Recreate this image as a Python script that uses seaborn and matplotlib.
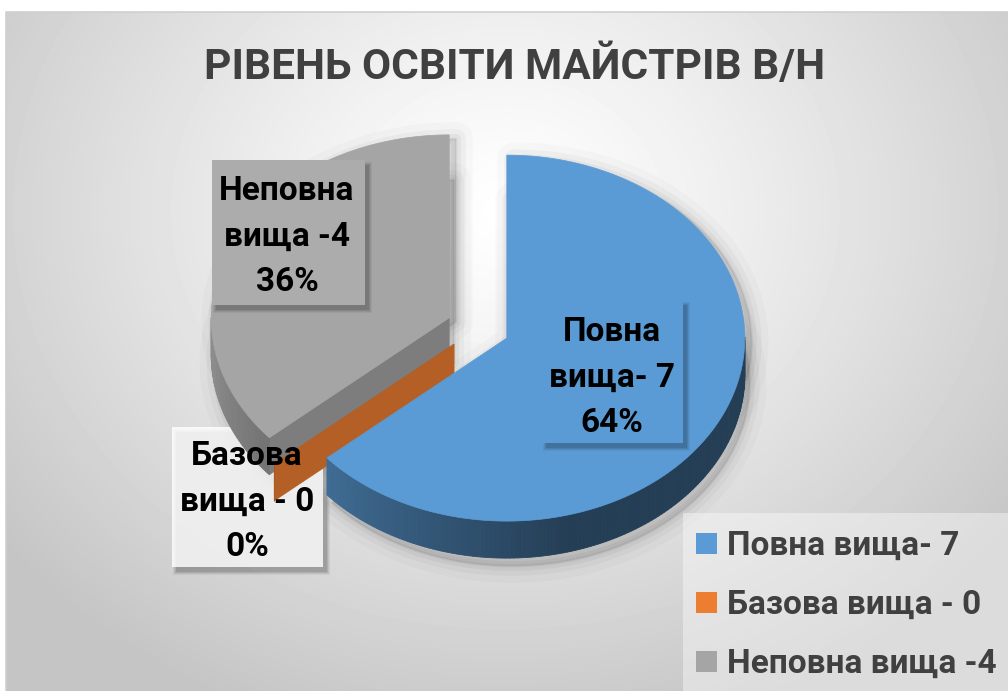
import numpy as np
import matplotlib
matplotlib.use("Agg")
import matplotlib.pyplot as plt
from matplotlib.patches import Polygon, Rectangle
import seaborn as sns

# data
title = "РІВЕНЬ ОСВІТИ МАЙСТРІВ В/Н"
categories = ["Повна вища- 7", "Базова вища - 0", "Неповна вища -4"]
counts = [7, 0, 4]
label_lines = [["Повна", "вища- 7"], ["Базова", "вища - 0"], ["Неповна", "вища -4"]]

sns.set_theme(style="white")
plt.rcParams["font.family"] = ["Roboto", "DejaVu Sans"]
colors = sns.color_palette(["#5b9bd5", "#ed7d31", "#a5a5a5"])

W, H = 1008, 691
fig = plt.figure(figsize=(W / 100, H / 100), dpi=100)
ax = fig.add_axes([0, 0, 1, 1])

# chart area background (radial gradient)
x0, y0 = 6, 12
yy, xx = np.mgrid[y0:H, x0:W]
r = np.hypot(xx - 505, (yy - 210) / 0.85)
bg = 1 - np.clip(r / 640, 0, 1) ** 1.2 * 0.23
ax.imshow(bg, cmap="gray", vmin=0, vmax=1, extent=(x0, W, H, y0),
          aspect="auto", zorder=0)
ax.plot([x0, x0, W], [H, y0, y0], color="#cfcfcf", lw=1.2, zorder=1)

# pie geometry (pixels)
cx, cy = 478, 328
rx, ry = 238, 183
depth = 37
explode = 0.133

fracs = np.array(counts) / sum(counts)
ends = np.cumsum(fracs) * 360
starts = ends - fracs * 360


def rim(c, th):
    t = np.radians(th)
    return c[0] + rx * np.sin(t), c[1] - ry * np.cos(t)


def wall_shade(th):
    return 0.4 + 0.3 * np.clip((th - 165) / 65, 0, 1.5)


def shaded(col, f):
    return tuple(np.clip(np.array(col) * f, 0, 1))


centres = []
for s, e in zip(starts, ends):
    m = np.radians((s + e) / 2)
    centres.append((cx + explode * rx * np.sin(m), cy - explode * ry * np.cos(m)))

# soft shadow under the pie
for k in [2, 0]:
    c = centres[k]
    th = np.linspace(starts[k], ends[k], 120)
    pts = np.array([c] + [rim(c, t) for t in th])
    for off in [(7, 4), (5, depth + 8)]:
        sp = pts + off
        for lw, a in [(24, 0.02), (14, 0.03), (7, 0.04), (2, 0.05)]:
            ax.add_patch(Polygon(sp, closed=True, facecolor=(0, 0, 0, 0.025),
                                 edgecolor=(0, 0, 0, a), lw=lw,
                                 joinstyle="round", zorder=2))

# data label boxes (behind / in front as in the original)
boxes = [(542, 300, 141, 143, colors[0], 1.0, 7),
         (172, 427, 151, 140, (1, 1, 1), 0.82, 2.5),
         (212, 160, 153, 145, (0.675, 0.675, 0.675), 1.0, 7)]


def draw_box(x, y, w, h, fc, alpha, z):
    for i, a in enumerate([0.05, 0.06, 0.08, 0.1]):
        g = 3 - i
        ax.add_patch(Rectangle((x + 4 - g, y + 5 - g), w + 2 * g, h + 2 * g,
                               facecolor=(0, 0, 0, a), edgecolor="none", zorder=z))
    ax.add_patch(Rectangle((x, y), w, h, facecolor=fc, alpha=alpha,
                           edgecolor="none", zorder=z + 0.1))


draw_box(*boxes[1])

# slices, back to front
for k in [2, 1, 0]:
    c = centres[k]
    s, e = starts[k], ends[k]
    col = colors[k]
    z = 3 + [2, 1, 0].index(k)
    # radial cut faces
    for edge, normal in [(s, s - 90), (e, e + 90)]:
        if -np.cos(np.radians(normal)) > 0.05:
            p = rim(c, edge)
            face = [c, p, (p[0], p[1] + depth), (c[0], c[1] + depth)]
            fcol = shaded(col, 0.76)
            ax.add_patch(Polygon(face, closed=True, facecolor=fcol,
                                 edgecolor=fcol, lw=0.5, zorder=z))
    # outer wall
    th = np.linspace(s, e, max(2, int(e - s) + 2))
    for t1, t2 in zip(th[:-1], th[1:]):
        tm = (t1 + t2) / 2
        if 90 < tm < 270:
            p1, p2 = rim(c, t1), rim(c, t2)
            quad = [p1, p2, (p2[0], p2[1] + depth), (p1[0], p1[1] + depth)]
            fcol = shaded(col, wall_shade(tm))
            ax.add_patch(Polygon(quad, closed=True, facecolor=fcol,
                                 edgecolor=fcol, lw=0.6, zorder=z))
    # top face
    if e - s > 0:
        top = [c] + [rim(c, t) for t in th]
        ax.add_patch(Polygon(top, closed=True, facecolor=col, edgecolor=col,
                             lw=0.5, zorder=z + 0.5))

draw_box(*boxes[0])
draw_box(*boxes[2])

# data labels
label_pos = [(612, 341), (247, 465), (287, 200)]
for k, (lx, ly) in enumerate(label_pos):
    lines = label_lines[k] + [f"{fracs[k]:.0%}"]
    for i, line in enumerate(lines):
        ax.text(lx, ly + i * 45.5, line, ha="center", va="baseline",
                fontsize=24, fontweight="bold", color="black", zorder=10)

# title
ax.text(515, 79, title, ha="center", va="baseline", fontsize=30.5,
        fontweight="bold", color="#404040", zorder=10)

# legend
ax.add_patch(Rectangle((683, 513), W - 683, H - 513, facecolor=(1, 1, 1, 0.4),
                       edgecolor="none", zorder=8))
for k, name in enumerate(categories):
    base = 555 + k * 59
    ax.add_patch(Rectangle((696, base - 22), 21, 21, facecolor=colors[k],
                           edgecolor="none", zorder=9))
    ax.text(727, base, name, ha="left", va="baseline", fontsize=24,
            fontweight="bold", color="#404040", zorder=10)

ax.set_xlim(0, W)
ax.set_ylim(H, 0)
ax.axis("off")
fig.savefig("out.png", dpi=100, facecolor="white")
